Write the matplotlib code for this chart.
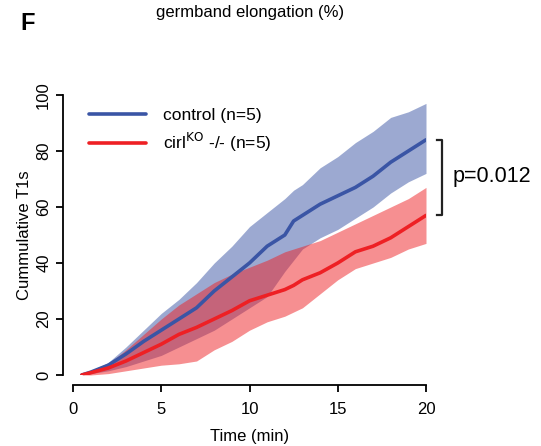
import matplotlib.pyplot as plt
import numpy as np

plt.rcParams['font.family'] = ['Liberation Sans', 'DejaVu Sans']

# time points (min)
time = [0.5, 1, 2, 3, 4, 5, 6, 7, 8, 9, 10, 11, 12, 12.5, 13, 14, 15, 16, 17, 18, 19, 20]

# control (n=5)
ctrl_mean = [0, 1, 3.5, 7.5, 12, 16, 20, 24, 30, 35, 40, 46, 50, 55, 57, 61, 64, 67, 71, 76, 80, 84]
ctrl_low = [0, 0.5, 1.5, 3, 5, 7, 10, 13, 16, 20, 24, 28, 37, 41, 45, 49, 52, 56, 60, 65, 69, 72]
ctrl_high = [0, 1.5, 4.5, 10, 16, 22, 27, 33, 40, 46, 53, 58, 63, 66, 68, 74, 78, 83, 87, 92, 94, 97]

# cirl KO -/- (n=5)
ko_mean = [0, 0.8, 2.5, 5, 8, 11, 14.5, 17, 20, 23, 26.5, 28.5, 30.5, 32, 34, 36.5, 40, 44, 46, 49, 53, 57]
ko_low = [0, 0, 0.5, 1.5, 2.5, 3.5, 4, 5, 9, 12, 16, 19, 21, 22.5, 24, 29, 34, 38, 40, 42, 45, 47]
ko_high = [0, 1.5, 4, 9, 14.5, 20, 25, 29, 33, 36, 38.5, 41, 44, 45, 46, 48, 51, 54, 57, 60, 63, 67]

blue = '#3a55a5'
red = '#ee2024'

fig = plt.figure(figsize=(5.41, 4.46), dpi=100)
ax = fig.add_axes([73 / 541, 1 - 375 / 446, (426 - 73) / 541, (375 - 95) / 446])

ax.fill_between(time, ctrl_low, ctrl_high, color=blue, alpha=0.5, linewidth=0)
ax.plot(time, ctrl_mean, color=blue, lw=2.6, label='control (n=5)', solid_capstyle='round')
ax.fill_between(time, ko_low, ko_high, color=red, alpha=0.5, linewidth=0)
ax.plot(time, ko_mean, color=red, lw=2.6, label='cirl$^{\\mathrm{KO}}$ -/- (n=5)', solid_capstyle='round')

ax.set_xlim(0, 20)
ax.set_ylim(0, 100)
ax.set_xticks([0, 5, 10, 15, 20])
ax.set_yticks([0, 20, 40, 60, 80, 100])
for s in ['top', 'right']:
    ax.spines[s].set_visible(False)
ax.spines['bottom'].set_position(('outward', 7.2))
ax.spines['left'].set_position(('outward', 7.2))
ax.spines['bottom'].set_bounds(0, 20)
ax.spines['left'].set_bounds(0, 100)
ax.spines['bottom'].set_linewidth(1.3)
ax.spines['left'].set_linewidth(1.3)
ax.tick_params(length=5, width=1.3, labelsize=12)
ax.tick_params(axis='x', pad=7)
for lbl in ax.get_yticklabels():
    lbl.set_rotation(90)
    lbl.set_va('center')
ax.set_xlabel('Time (min)', fontsize=12, labelpad=9)
ax.set_ylabel('Cummulative T1s', fontsize=12, labelpad=3)

ax.legend(loc='upper left', bbox_to_anchor=(0.0, 1.01), frameon=False, fontsize=12.5,
          handlelength=3.3, handletextpad=1.0, labelspacing=0.45)

# significance bracket
ax.plot([20.6, 20.9, 20.9, 20.6], [84, 84, 57, 57], color='#222222', lw=1.6, clip_on=False)
ax.text(21.5, 71, 'p=0.012', fontsize=15.5, va='center', ha='left')

fig.text(250 / 541, 1 - 13 / 446, 'germband elongation (%)', fontsize=12, ha='center', va='center')
fig.text(20 / 541, 1 - 23 / 446, 'F', fontsize=17, fontweight='bold', ha='left', va='center')

fig.savefig('out.png', dpi=100)
